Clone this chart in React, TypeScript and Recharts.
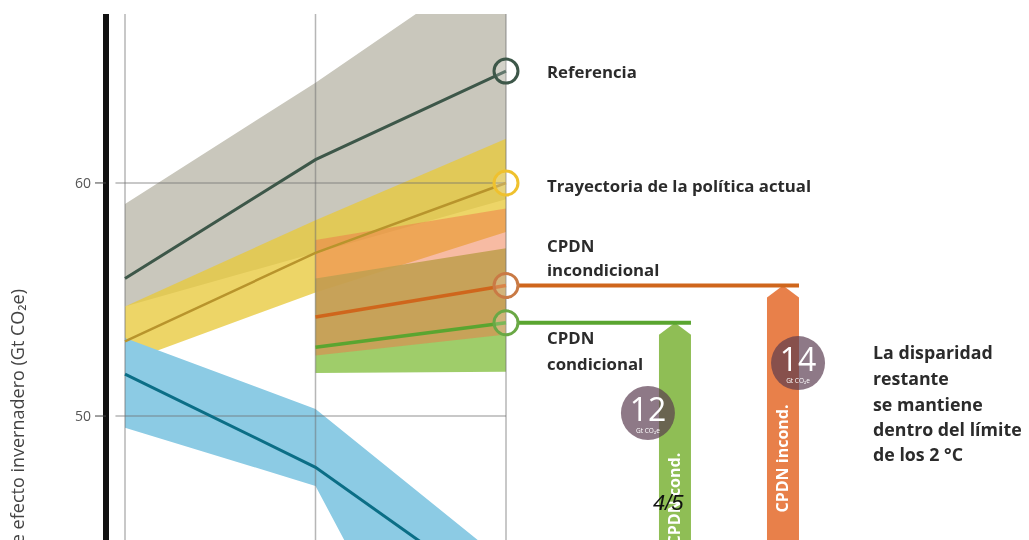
import { ComposedChart, Area, Line, XAxis, YAxis, ReferenceLine, ReferenceDot, ReferenceArea } from 'recharts'

// positions on the x grid: 2010, 2025, 2030 (equally spaced in the source)
const steps = [0, 1, 2]

const referencia = [55.9, 61.0, 64.8]
const referenciaLow = [54.7, 57.0, 59.3]
const referenciaHigh = [59.1, 64.3, 69.9]

const politicaActual = [53.2, 57.0, 60.0]
const politicaLow = [52.3, 55.3, 57.9]
const politicaHigh = [54.7, 58.4, 61.9]

const cpdnIncond = [null, 54.25, 55.6]
const cpdnIncondLow = [null, 52.6, 53.5]
const cpdnIncondHigh = [null, 57.55, 58.9]

const cpdnCond = [null, 52.95, 54.0]
const cpdnCondLow = [null, 51.85, 51.9]
const cpdnCondHigh = [null, 55.9, 57.2]

const dosGrados = [51.8, 47.8, 42.0]
const dosGradosLow = [49.5, 47.0, 31.6]
const dosGradosHigh = [53.35, 50.3, 43.7]

const yTicks = [50, 60]

const gapValues = [12, 14]
const gapLabels = ['CPDN cond.', 'CPDN incond.']
const gapX = [2.887, 3.454]

const range = (lo: (number | null)[], hi: (number | null)[], i: number) =>
  lo[i] == null || hi[i] == null ? null : [lo[i], hi[i]]

const data = steps.map((x, i) => ({
  x,
  ref: referencia[i],
  refBand: range(referenciaLow, referenciaHigh, i),
  actual: politicaActual[i],
  actualBand: range(politicaLow, politicaHigh, i),
  incond: cpdnIncond[i],
  incondBand: range(cpdnIncondLow, cpdnIncondHigh, i),
  cond: cpdnCond[i],
  condBand: range(cpdnCondLow, cpdnCondHigh, i),
  dos: dosGrados[i],
  dosBand: range(dosGradosLow, dosGradosHigh, i),
}))

const FONT = "'Open Sans', sans-serif"
const GRID = 'rgba(110,110,110,0.5)'
const HALF = 0.084
const last = steps.length - 1

function gapArrow(color: string, label: string, textTop: number) {
  return (p: any) => {
    const { x, y, width, height } = p
    const tip = 12
    const pts = `${x},${y + tip} ${x + width / 2},${y} ${x + width},${y + tip} ${x + width},${y + height} ${x},${y + height}`
    return (
      <g>
        <polygon points={pts} fill={color} />
        <text
          transform={`translate(${x + width / 2 + 5.5},${y + textTop}) rotate(-90)`}
          textAnchor="end" fill="#fff" fontSize={16} fontWeight={700} fontFamily={FONT}
        >
          {label}
        </text>
      </g>
    )
  }
}

function badge(value: number) {
  return (p: any) => {
    const { cx, cy } = p
    return (
      <g>
        <circle cx={cx} cy={cy} r={27} fill="rgba(88,58,78,0.68)" />
        <text x={cx} y={cy + 8} textAnchor="middle" fill="#fff" fontSize={32} fontFamily={FONT}>{value}</text>
        <text x={cx} y={cy + 20} textAnchor="middle" fill="#fff" fontSize={6.5} fontFamily={FONT}>Gt CO₂e</text>
      </g>
    )
  }
}

const markers = [
  { y: referencia[last], color: '#3d5749' },
  { y: politicaActual[last], color: '#efc12e' },
  { y: cpdnIncond[last] as number, color: '#c97a45' },
  { y: cpdnCond[last] as number, color: '#6aa845' },
]

export default function App() {
  return (
    <div style={{ position: 'absolute', left: 0, top: 0, width: 1029, height: 540, background: '#fff', fontFamily: FONT, overflow: 'hidden' }}>
      <ComposedChart width={1029} height={540} data={data} margin={{ top: 14, right: 523, left: 0, bottom: 0 }}>
        <XAxis dataKey="x" type="number" domain={[0, 2]} ticks={steps} hide padding={{ left: 19, right: 0 }} />
        <YAxis
          type="number" domain={[44.68, 67.25]} allowDataOverflow ticks={yTicks} width={106}
          axisLine={{ stroke: '#111', strokeWidth: 6 }} tickLine={{ stroke: '#444' }} tickSize={11} tickMargin={4}
          tick={{ fill: '#555', fontSize: 14, fontFamily: FONT }}
        />
        <Area type="linear" dataKey="refBand" stroke="none" fill="#c9c7bc" fillOpacity={1} isAnimationActive={false} activeDot={false} />
        <Area type="linear" dataKey="actualBand" stroke="none" fill="#e8c93c" fillOpacity={0.78} isAnimationActive={false} activeDot={false} />
        <Area type="linear" dataKey="dosBand" stroke="none" fill="#8ccbe4" fillOpacity={1} style={{ mixBlendMode: 'multiply' }} isAnimationActive={false} activeDot={false} />
        <Area type="linear" dataKey="condBand" stroke="none" fill="#95c85a" fillOpacity={0.9} isAnimationActive={false} activeDot={false} />
        <Area type="linear" dataKey="incondBand" stroke="none" fill="#f07848" fillOpacity={0.5} isAnimationActive={false} activeDot={false} />

        {steps.map(s => (
          <ReferenceLine key={`v${s}`} x={s} stroke={GRID} strokeWidth={1.5} />
        ))}
        {yTicks.map(t => (
          <ReferenceLine key={`h${t}`} segment={[{ x: -0.05, y: t }, { x: 2, y: t }]} stroke={GRID} strokeWidth={1.5} ifOverflow="visible" />
        ))}

        <Line type="linear" dataKey="ref" stroke="#3d5749" strokeWidth={3} dot={false} activeDot={false} isAnimationActive={false} />
        <Line type="linear" dataKey="actual" stroke="#b8942c" strokeWidth={2.5} dot={false} activeDot={false} isAnimationActive={false} />
        <Line type="linear" dataKey="incond" stroke="#cf661c" strokeWidth={3.5} dot={false} activeDot={false} isAnimationActive={false} />
        <Line type="linear" dataKey="cond" stroke="#5aa530" strokeWidth={3.5} dot={false} activeDot={false} isAnimationActive={false} />
        <Line type="linear" dataKey="dos" stroke="#0b6e86" strokeWidth={3} dot={false} activeDot={false} isAnimationActive={false} />

        <ReferenceArea
          x1={gapX[0] - HALF} x2={gapX[0] + HALF} y1={dosGrados[last]} y2={cpdnCond[last] as number}
          ifOverflow="visible" shape={gapArrow('#8fbe55', gapLabels[0], 130)}
        />
        <ReferenceArea
          x1={gapX[1] - HALF} x2={gapX[1] + HALF} y1={dosGrados[last]} y2={cpdnIncond[last] as number}
          ifOverflow="visible" shape={gapArrow('#e8804a', gapLabels[1], 119)}
        />

        <ReferenceLine
          segment={[{ x: 2.063, y: cpdnIncond[last] as number }, { x: gapX[1] + HALF, y: cpdnIncond[last] as number }]}
          stroke="#cf661c" strokeWidth={4} ifOverflow="visible"
        />
        <ReferenceLine
          segment={[{ x: 2.063, y: cpdnCond[last] as number }, { x: gapX[0] + HALF, y: cpdnCond[last] as number }]}
          stroke="#5aa530" strokeWidth={4} ifOverflow="visible"
        />

        {markers.map((m, i) => (
          <ReferenceDot key={`m${i}`} x={2} y={m.y} r={12} fill="rgba(255,255,255,0.2)" stroke={m.color} strokeWidth={3} ifOverflow="visible" />
        ))}

        <ReferenceDot x={2.745} y={50.13} ifOverflow="visible" shape={badge(gapValues[0])} />
        <ReferenceDot x={3.533} y={52.27} ifOverflow="visible" shape={badge(gapValues[1])} />
      </ComposedChart>

      <svg width={1029} height={540} style={{ position: 'absolute', left: 0, top: 0, pointerEvents: 'none' }}>
        <text transform="translate(24,289) rotate(-90)" textAnchor="end" fill="#444" fontSize={18} fontFamily={FONT}>
          Emisiones globales anuales de gases de efecto invernadero (Gt CO₂e)
        </text>
        <g fill="#2b2b2b" fontSize={16.8} fontWeight={700} fontFamily={FONT}>
          <text x={547} y={78}>Referencia</text>
          <text x={547} y={192}>Trayectoria de la política actual</text>
          <text x={547} y={252}>CPDN</text>
          <text x={547} y={276}>incondicional</text>
          <text x={547} y={344}>CPDN</text>
          <text x={547} y={370}>condicional</text>
        </g>
        <g fill="#2b2b2b" fontSize={17.8} fontWeight={700} fontFamily={FONT}>
          <text x={873} y={359}>La disparidad</text>
          <text x={873} y={385}>restante</text>
          <text x={873} y={411}>se mantiene</text>
          <text x={873} y={436}>dentro del límite</text>
          <text x={873} y={461}>de los 2 °C</text>
        </g>
        <text x={653} y={510} fill="#111" fontSize={22} fontStyle="italic" fontFamily="'Liberation Sans', sans-serif">4/5</text>
      </svg>
    </div>
  )
}
